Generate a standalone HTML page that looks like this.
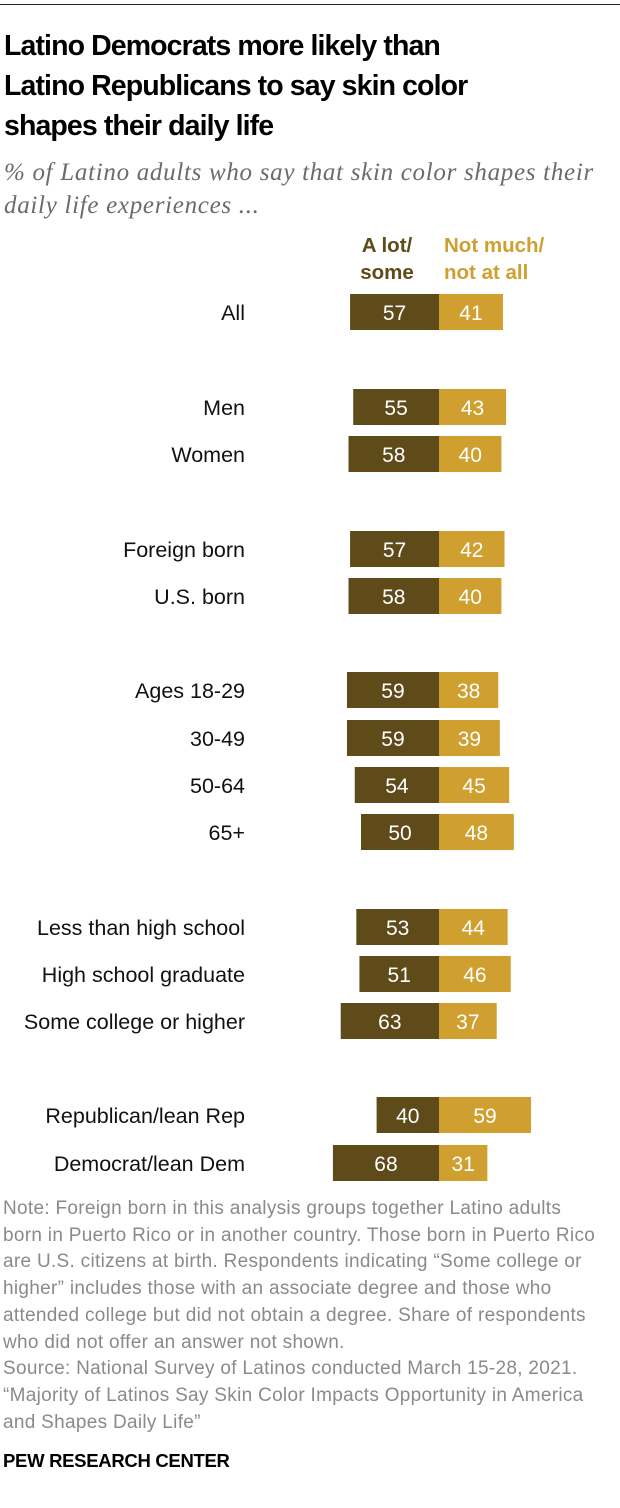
<!DOCTYPE html>
<html><head><meta charset="utf-8"><style>
body{margin:0;width:620px;height:1508px;background:#fff;font-family:"Liberation Sans",sans-serif;position:relative;overflow:hidden}
.rule{position:absolute;left:0;top:4px;width:620px;height:1px;background:#222}
h1{position:absolute;left:4px;top:26px;margin:0;font-size:28.5px;line-height:40px;font-weight:bold;color:#000;letter-spacing:-0.9px;white-space:nowrap}
.sub{position:absolute;left:4px;top:156px;font-family:"Liberation Serif",serif;font-style:italic;font-size:25px;line-height:33px;color:#6b6b6b;white-space:nowrap;letter-spacing:0.7px}
.note{position:absolute;left:3px;top:1196px;font-size:19px;line-height:26.7px;color:#8a8a8a;white-space:nowrap;letter-spacing:0.3px}
.pew{position:absolute;left:3px;top:1450px;font-size:18.5px;font-weight:bold;color:#000;letter-spacing:-0.3px}
svg{position:absolute;left:0;top:0}
</style></head><body>
<div class="rule"></div>
<h1>Latino Democrats more likely than<br>Latino Republicans to say skin color<br>shapes their daily life</h1>
<div class="sub">% of Latino adults who say that skin color shapes their<br>daily life experiences ...</div>
<svg id="chart" width="620" height="1200">
<text x="387" y="252" text-anchor="middle" font-weight="bold" font-size="20.5" fill="#5f4a1a"><tspan x="387">A lot/</tspan><tspan x="387" dy="27">some</tspan></text>
<text x="444" y="252" font-weight="bold" font-size="20.5" fill="#cf9f30"><tspan x="444">Not much/</tspan><tspan x="444" dy="27">not at all</tspan></text>
</svg>
<div class="note">Note: Foreign born in this analysis groups together Latino adults<br>born in Puerto Rico or in another country. Those born in Puerto Rico<br>are U.S. citizens at birth. Respondents indicating “Some college or<br>higher” includes those with an associate degree and those who<br>attended college but did not obtain a degree. Share of respondents<br>who did not offer an answer not shown.<br>Source: National Survey of Latinos conducted March 15-28, 2021.<br>“Majority of Latinos Say Skin Color Impacts Opportunity in America<br>and Shapes Daily Life”</div>
<div class="pew">PEW RESEARCH CENTER</div>
<script>
const categories=["All","Men","Women","Foreign born","U.S. born","Ages 18-29","30-49","50-64","65+","Less than high school","High school graduate","Some college or higher","Republican/lean Rep","Democrat/lean Dem"];
const aLot=[57,55,58,57,58,59,59,54,50,53,51,63,40,68];
const notMuch=[41,43,40,42,40,38,39,45,48,44,46,37,59,31];
const rowY=[312,407,454,549,596,690,738,785,832,927,974,1021,1115,1163];
const svg=document.getElementById('chart');
const NS='http://www.w3.org/2000/svg';
const x0=439, k=1.56, h=36;
const xs=v=>v*k;
function mk(t,a){const e=document.createElementNS(NS,t);for(const n in a)e.setAttribute(n,a[n]);svg.appendChild(e);return e;}
categories.forEach((c,i)=>{
 const y=rowY[i];
 const lab=mk('text',{x:245,y:y+8,'text-anchor':'end','font-size':21.5,fill:'#111'});lab.textContent=c;
 
 
 const w1=xs(aLot[i]);
 const r1=mk('rect',{x:x0-w1,y:y-h/2,width:w1,height:h,fill:'#5f4a1a'});
 
 
 const w2=xs(notMuch[i]);
 const r2=mk('rect',{x:x0,y:y-h/2,width:w2,height:h,fill:'#cf9f30'});
 
 
 const t1=mk('text',{x:x0-w1/2,y:y+8,'text-anchor':'middle','font-size':21,fill:'#fff'});t1.textContent=aLot[i];
 
 
 const t2=mk('text',{x:x0+w2/2,y:y+8,'text-anchor':'middle','font-size':21,fill:'#fff'});t2.textContent=notMuch[i];
 
 
});
</script>
</body></html>
